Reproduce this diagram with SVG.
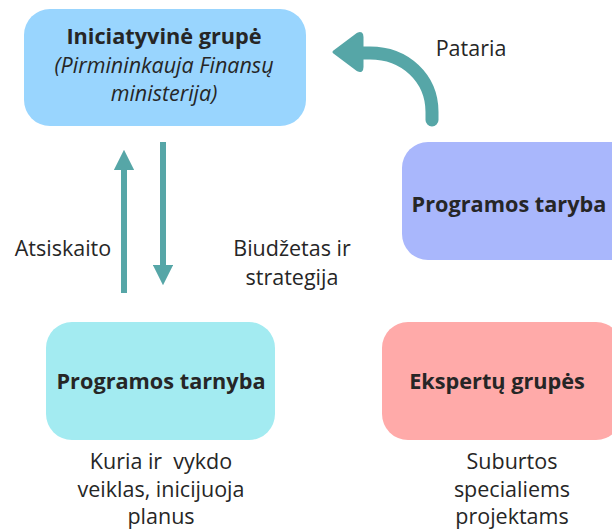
<svg xmlns="http://www.w3.org/2000/svg" width="612" height="531" viewBox="0 0 612 531">
<style>
text{font-family:"Open Sans","Liberation Sans",sans-serif;fill:#262626;text-anchor:middle}
.t{font-weight:bold;font-size:21.7px}
.i{font-style:italic;font-size:21.5px}
.l{font-size:21.5px}
.c{stroke:#56a6a7;fill:none}
</style>
<defs>
<marker id="ah" viewBox="0 0 10 10" refX="5" refY="5" markerWidth="3.4" markerHeight="3.4" orient="auto" markerUnits="strokeWidth"><path d="M0,0 L10,5 L0,10 z" fill="#56a6a7"/></marker>
</defs>
<rect width="612" height="531" fill="#fff"/>
<g id="connectors">
<line class="c" x1="124" y1="293" x2="124" y2="160" stroke-width="6" marker-end="url(#ah)"/>
<line class="c" x1="163" y1="142" x2="163" y2="275" stroke-width="6" marker-end="url(#ah)"/>
<path class="c" d="M432,120 L432,112 C432,78 405,53 370,53 L362,53" stroke-width="13" stroke-linecap="round"/>
<path d="M334,52 L358,34 Q362,32 362,37 L362,67 Q362,72 358,70 Z" fill="#56a6a7" stroke="#56a6a7" stroke-width="3" stroke-linejoin="round"/>
<text class="l" x="471" y="56">Pataria</text>
<text class="l" x="63" y="256">Atsiskaito</text>
<text class="l" x="292" y="256">Biudžetas ir</text>
<text class="l" x="292" y="285">strategija</text>
</g>
<g id="iniciatyvine">
<rect x="24" y="9" width="282" height="117" rx="26" fill="#99d5fe"/>
<text class="t" x="164" y="44">Iniciatyvinė grupė</text>
<text class="i" x="164" y="73">(Pirmininkauja Finansų</text>
<text class="i" x="164" y="101">ministerija)</text>
</g>
<g id="taryba">
<rect x="402" y="142" width="240" height="118" rx="26" fill="#a9b7fc"/>
<text class="t" x="509" y="212">Programos taryba</text>
</g>
<g id="tarnyba">
<rect x="46" y="322" width="229" height="118" rx="26" fill="#a3ebf1"/>
<text class="t" x="161" y="389">Programos tarnyba</text>
<text class="l" x="161" y="469" xml:space="preserve">Kuria ir  vykdo</text>
<text class="l" x="161" y="497">veiklas, inicijuoja</text>
<text class="l" x="161" y="524">planus</text>
</g>
<g id="ekspertai">
<rect x="382" y="322" width="240" height="118" rx="26" fill="#ffaaa9"/>
<text class="t" x="497" y="389">Ekspertų grupės</text>
<text class="l" x="512" y="469">Suburtos</text>
<text class="l" x="512" y="497">specialiems</text>
<text class="l" x="512" y="524">projektams</text>
</g>
</svg>
